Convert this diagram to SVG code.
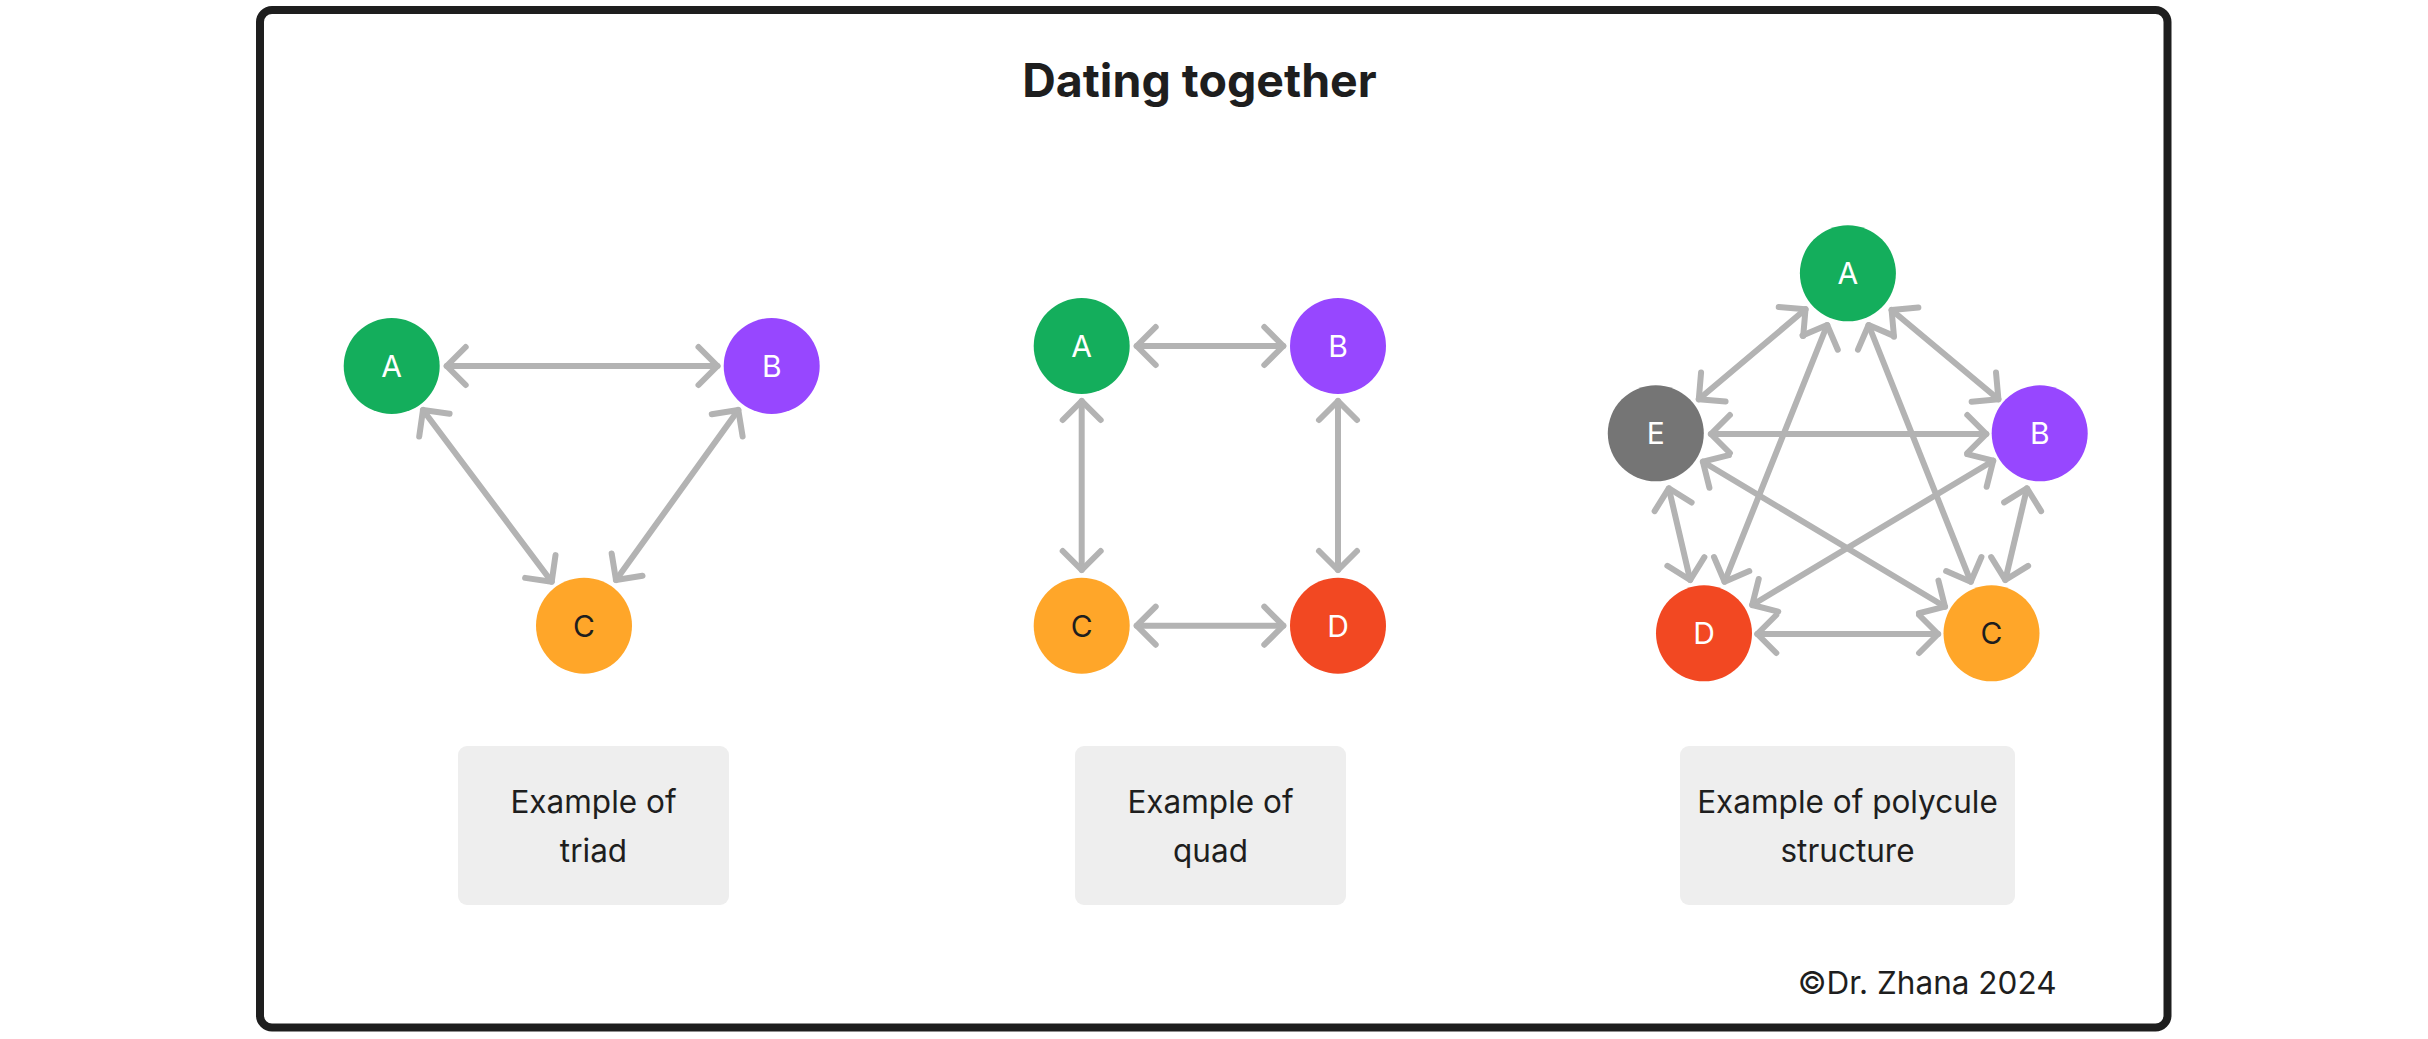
<svg xmlns="http://www.w3.org/2000/svg" width="2428" height="1039" viewBox="0 0 2428 1039">
<style>
.t{font-family:Inter,"Noto Sans","Liberation Sans",sans-serif;}
.title{font-size:46.5px;font-weight:700;fill:#1e1e1e;text-anchor:middle;}
.lbl{font-size:31.5px;fill:#1e1e1e;text-anchor:middle;}
.nl{font-size:30px;text-anchor:middle;dominant-baseline:central;}
.w{fill:#ffffff;}
.k{fill:#1e1e1e;}
.box{fill:#eeeeee;}
.cn line{stroke:#b3b3b3;stroke-width:6;stroke-linecap:round;marker-start:url(#ah);marker-end:url(#ah);}
</style>
<defs>
<marker id="ah" viewBox="-30 -25 40 50" refX="0" refY="0" markerWidth="40" markerHeight="50" markerUnits="userSpaceOnUse" orient="auto-start-reverse" overflow="visible">
<path d="M-19,-19 L0,0 L-19,19" fill="none" stroke="#b3b3b3" stroke-width="6" stroke-linecap="round" stroke-linejoin="round"/>
</marker>
</defs>
<rect x="0" y="0" width="2428" height="1039" fill="#ffffff"/>
<rect id="frame" x="260" y="10" width="1907.5" height="1017.5" rx="12" fill="#ffffff" stroke="#1e1e1e" stroke-width="8"/>
<text class="t title" x="1199.5" y="96.5">Dating together</text>

<g class="cn" id="connectors">
<line x1="446.7" y1="366" x2="717.5" y2="366"/>
<line x1="423" y1="410" x2="551.7" y2="581.7"/>
<line x1="738.3" y1="410" x2="616" y2="580"/>

<line x1="1136.7" y1="346" x2="1283.3" y2="346"/>
<line x1="1081.7" y1="401" x2="1081.7" y2="570"/>
<line x1="1338" y1="401" x2="1338" y2="570"/>
<line x1="1136.7" y1="625.7" x2="1283.3" y2="625.7"/>

<line x1="1805.5" y1="309.3" x2="1698.8" y2="399.3"/>
<line x1="1891.6" y1="310" x2="1998.4" y2="399.3"/>
<line x1="1827.2" y1="325" x2="1724.6" y2="581.7"/>
<line x1="1868.6" y1="325" x2="1970.8" y2="581.7"/>
<line x1="1710.9" y1="434" x2="1986.3" y2="434"/>
<line x1="1702.9" y1="461.7" x2="1945" y2="606.7"/>
<line x1="1993.2" y1="460.7" x2="1752.2" y2="605"/>
<line x1="1668.8" y1="488.3" x2="1690.2" y2="580"/>
<line x1="2027" y1="488.3" x2="2005.3" y2="580"/>
<line x1="1757.3" y1="634" x2="1938.1" y2="634"/>
</g>

<g id="triad-A"><circle cx="391.7" cy="366" r="48" fill="#14AE5C"/><text class="t nl w" x="391.7" y="366">A</text></g>
<g id="triad-B"><circle cx="771.7" cy="366" r="48" fill="#9747FF"/><text class="t nl w" x="771.7" y="366">B</text></g>
<g id="triad-C"><circle cx="584" cy="625.7" r="48" fill="#FFA629"/><text class="t nl k" x="584" y="625.7">C</text></g>

<g id="quad-A"><circle cx="1081.7" cy="346" r="48" fill="#14AE5C"/><text class="t nl w" x="1081.7" y="346">A</text></g>
<g id="quad-B"><circle cx="1338" cy="346" r="48" fill="#9747FF"/><text class="t nl w" x="1338" y="346">B</text></g>
<g id="quad-C"><circle cx="1081.7" cy="625.7" r="48" fill="#FFA629"/><text class="t nl k" x="1081.7" y="625.7">C</text></g>
<g id="quad-D"><circle cx="1338" cy="625.7" r="48" fill="#F24822"/><text class="t nl w" x="1338" y="625.7">D</text></g>

<g id="poly-A"><circle cx="1847.9" cy="273.3" r="48" fill="#14AE5C"/><text class="t nl w" x="1847.9" y="273.3">A</text></g>
<g id="poly-E"><circle cx="1655.8" cy="433.3" r="48" fill="#757575"/><text class="t nl w" x="1655.8" y="433.3">E</text></g>
<g id="poly-B"><circle cx="2039.7" cy="433.3" r="48" fill="#9747FF"/><text class="t nl w" x="2039.7" y="433.3">B</text></g>
<g id="poly-D"><circle cx="1704" cy="633.3" r="48" fill="#F24822"/><text class="t nl w" x="1704" y="633.3">D</text></g>
<g id="poly-C"><circle cx="1991.5" cy="633.3" r="48" fill="#FFA629"/><text class="t nl k" x="1991.5" y="633.3">C</text></g>

<g id="label-triad"><rect class="box" x="458" y="746" width="271" height="159" rx="9"/><text class="t lbl" x="593.5" y="813">Example of</text><text class="t lbl" x="593.5" y="861.5">triad</text></g>
<g id="label-quad"><rect class="box" x="1075" y="746" width="271" height="159" rx="9"/><text class="t lbl" x="1210.5" y="813">Example of</text><text class="t lbl" x="1210.5" y="861.5">quad</text></g>
<g id="label-poly"><rect class="box" x="1680" y="746" width="335" height="159" rx="9"/><text class="t lbl" x="1847.5" y="813">Example of polycule</text><text class="t lbl" x="1847.5" y="861.5">structure</text></g>

<text class="t lbl" x="2056.5" y="994" style="text-anchor:end">©Dr. Zhana 2024</text>
</svg>
